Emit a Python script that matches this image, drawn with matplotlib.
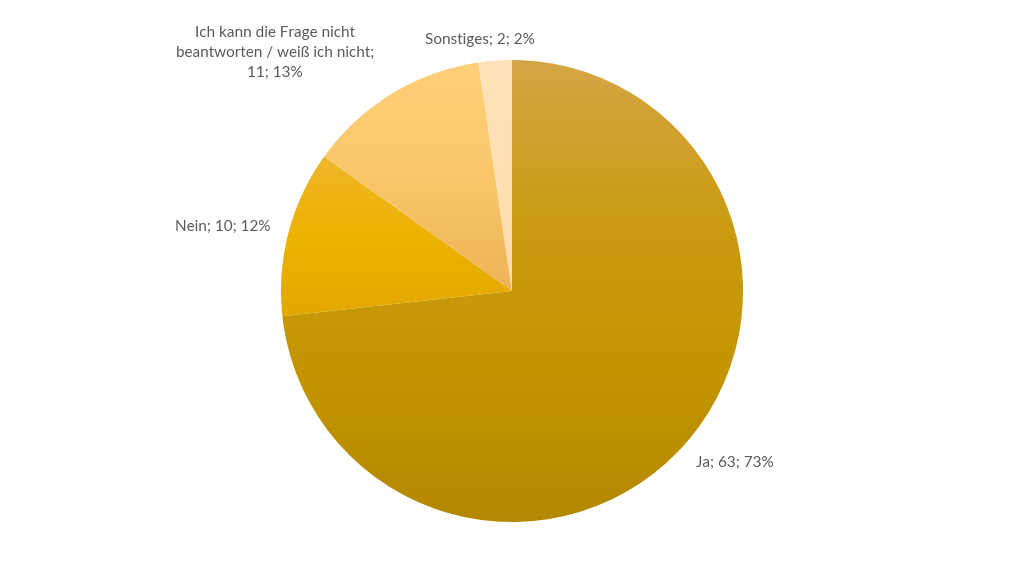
import numpy as np
import matplotlib.pyplot as plt
from matplotlib.colors import LinearSegmentedColormap

labels = ["Ja", "Nein", "Ich kann die Frage nicht\nbeantworten / weiß ich nicht;\n", "Sonstiges"]
values = [63, 10, 11, 2]
# gradient stops of each slice, top to bottom
grad_colors = [
    ["#D5A646", "#CB9C14", "#C49500", "#B38800"],
    ["#EFB62C", "#EDB300", "#E2A800"],
    ["#FFD07A", "#FAC76A", "#ECB455"],
    ["#FFE3BA", "#FFDCAA"],
]

W, H = 1024, 576
cx, cy, r = 512, H - 291, 231
# label anchor positions (pixels, y from top)
label_pos = [(735, 463), (223, 227), (275, 53), (480, 40)]

plt.rcParams["font.family"] = ["Lato", "DejaVu Sans"]

fig = plt.figure(figsize=(W / 100, H / 100), dpi=100)
ax = fig.add_axes([0, 0, 1, 1])

wedges, _ = ax.pie(
    values,
    center=(cx, cy),
    radius=r,
    startangle=90,
    counterclock=False,
    frame=True,
    wedgeprops=dict(linewidth=0, facecolor="none"),
)
ax.set_xlim(0, W)
ax.set_ylim(0, H)
ax.set_aspect("equal")
ax.axis("off")

grad = np.linspace(0, 1, 256).reshape(-1, 1)
for w, stops in zip(wedges, grad_colors):
    cmap = LinearSegmentedColormap.from_list("g", stops)
    verts = w.get_transform().transform(w.get_path().vertices)
    verts = ax.transData.inverted().transform(verts)
    x0, x1 = verts[:, 0].min(), verts[:, 0].max()
    y0, y1 = verts[:, 1].min(), verts[:, 1].max()
    im = ax.imshow(grad, cmap=cmap, extent=[x0, x1, y0, y1], origin="upper",
                   aspect="auto", zorder=1, interpolation="bilinear")
    im.set_clip_path(w)

total = sum(values)
for name, v, (lx, ly) in zip(labels, values, label_pos):
    pct = round(100 * v / total)
    if name.endswith("\n"):
        txt = f"{name}{v}; {pct}%"
    else:
        txt = f"{name}; {v}; {pct}%"
    ax.text(lx, H - ly, txt, ha="center", va="center", fontsize=11,
            color="#595959", linespacing=1.55)

ax.set_xlim(0, W)
ax.set_ylim(0, H)
fig.savefig("out.png", dpi=100)
